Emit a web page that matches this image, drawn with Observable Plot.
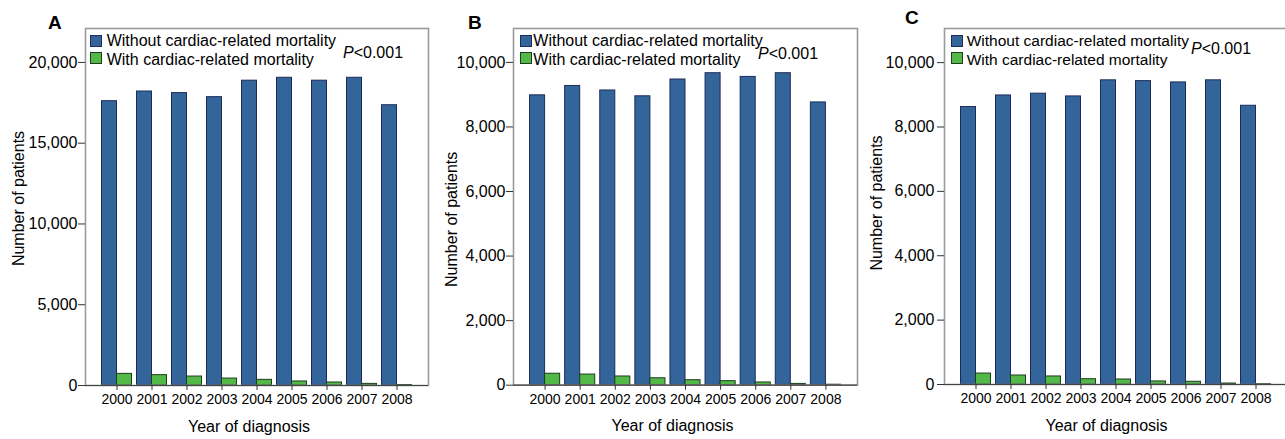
<!DOCTYPE html>
<html><head><meta charset="utf-8">
<script src="https://cdn.jsdelivr.net/npm/d3@7"></script>
<script src="https://cdn.jsdelivr.net/npm/@observablehq/plot@0.6"></script>
<style>
body{margin:0;background:#fff;overflow:hidden;font-family:"Liberation Sans",Arial,sans-serif;}
#root{position:relative;width:1285px;height:439px;overflow:hidden;background:#fff;}
.panel{position:absolute;top:0;height:439px;}
.panel svg{position:absolute;left:0;top:0;}
.lab{position:absolute;font-weight:bold;font-size:19px;line-height:19px;color:#000;}
.leg{position:absolute;font-size:16px;line-height:16px;white-space:nowrap;color:#000;}
.sw{position:absolute;width:10px;height:10px;}
</style></head><body><div id="root"></div>
<script>
// ---- data ----
const years = ["2000","2001","2002","2003","2004","2005","2006","2007","2008"];
const seriesNames = ["Without cardiac-related mortality", "With cardiac-related mortality"];
const A_without = [17600, 18200, 18100, 17850, 18870, 19050, 18870, 19050, 17350];
const A_with    = [720, 640, 555, 430, 350, 250, 185, 100, 30];
const B_without = [8980, 9270, 9130, 8950, 9470, 9665, 9550, 9665, 8760];
const B_with    = [355, 330, 270, 215, 155, 125, 85, 40, 15];
const C_without = [8620, 8980, 9035, 8950, 9450, 9425, 9385, 9450, 8660];
const C_with    = [340, 280, 250, 165, 155, 95, 85, 30, 10];
const A_ticks = [0, 5000, 10000, 15000, 20000];
const BC_ticks = [0, 2000, 4000, 6000, 8000, 10000];
const pText = "<0.001";

const BLUE = "#34659a", BLUE_S = "#1c2c5a";
const GREEN = "#52b848", GREEN_S = "#1e3d1e";

const panels = [
  {name:"A", left:0, width:430, mL:85, mR:2, mB:54, yMax:22100, ticks:A_ticks, tp:1,
   without:A_without, withv:A_with, ylDx:-67, ylDy:-8.5, xlDx:-8,
   labX:48, labY:12.5, swX:90, txX:106.7, legY:33, legFs:16, pX:343, pY:44.7},
  {name:"B", left:430, width:428, mL:83, mR:1, mB:54.3, yMax:11050, ticks:BC_ticks, tp:1,
   without:B_without, withv:B_with, ylDx:-61.3, ylDy:12.5, xlDx:-13,
   labX:38, labY:12.5, swX:90, txX:103.3, legY:33, legFs:16, pX:328, pY:46.2},
  {name:"C", left:858, width:432, mL:86, mR:3, mB:55, yMax:11060, ticks:BC_ticks, tp:3,
   without:C_without, withv:C_with, ylDx:-67.3, ylDy:-3.5, xlDx:-9.5,
   labX:47, labY:7.5, swX:92.7, txX:108.7, legY:33, legFs:15.5, pX:333, pY:40.5}
];

const root = document.getElementById("root");
for (const p of panels) {
  const data = years.map((y, i) => ({year: y, without: p.without[i], withv: p.withv[i]}));
  const pi = 5/35, po = 0.4714;
  const inner = p.width - p.mL - p.mR;
  const step = inner / (years.length - pi + 2*po);
  const half = step * (1 - pi) / 2;
  const chart = Plot.plot({
    width: p.width, height: 439,
    marginLeft: p.mL, marginRight: p.mR, marginTop: 28, marginBottom: p.mB,
    style: {fontFamily: "Liberation Sans, Arial, sans-serif", background: "transparent", overflow: "visible", color: "#000"},
    x: {type: "band", domain: years, paddingInner: pi, paddingOuter: po, round: false},
    y: {domain: [0, p.yMax]},
    marks: [
      Plot.barY(data, {x: "year", y: "without", fill: BLUE, stroke: BLUE_S, strokeWidth: 1, insetRight: half}),
      Plot.barY(data, {x: "year", y: "withv", fill: GREEN, stroke: GREEN_S, strokeWidth: 1, insetLeft: half}),
      Plot.frame({stroke: "#9b9b9b", strokeWidth: 1.6}),
      Plot.ruleY([0], {stroke: "#444", strokeWidth: 1.2}),
      Plot.axisY({ticks: p.ticks, tickFormat: d3.format(","), tickSize: 7, tickPadding: p.tp, fontSize: 16, label: null, stroke: "#333"}),
      Plot.axisX({tickSize: 5, tickPadding: 4, fontSize: 14, label: null, stroke: "#333"}),
      Plot.text(["Number of patients"], {text: d => d, frameAnchor: "left", rotate: -90, textAnchor: "middle", lineAnchor: "middle", dx: p.ylDx, dy: p.ylDy, fontSize: 16}),
      Plot.text(["Year of diagnosis"], {text: d => d, frameAnchor: "bottom", textAnchor: "middle", lineAnchor: "middle", dx: p.xlDx, dy: 41, fontSize: 16})
    ]
  });
  const div = document.createElement("div");
  div.className = "panel";
  div.style.left = p.left + "px";
  div.style.width = p.width + "px";
  div.appendChild(chart);

  const lab = document.createElement("div");
  lab.className = "lab"; lab.textContent = p.name;
  lab.style.left = p.labX + "px"; lab.style.top = p.labY + "px";
  div.appendChild(lab);

  const cols = [[BLUE, BLUE_S], [GREEN, GREEN_S]];
  seriesNames.forEach((s, i) => {
    const sw = document.createElement("div");
    sw.className = "sw";
    sw.style.left = p.swX + "px";
    sw.style.top = (35 + i*16.7) + "px";
    sw.style.background = cols[i][0];
    sw.style.border = "1px solid " + cols[i][1];
    div.appendChild(sw);
    const t = document.createElement("div");
    t.className = "leg"; t.textContent = s;
    t.style.fontSize = p.legFs + "px";
    t.style.left = p.txX + "px";
    t.style.top = (p.legY + i*18.5) + "px";
    div.appendChild(t);
  });

  const pv = document.createElement("div");
  pv.className = "leg";
  pv.innerHTML = "<i>P</i>" + pText.replace("<", "&lt;");
  pv.style.left = p.pX + "px"; pv.style.top = p.pY + "px";
  div.appendChild(pv);

  root.appendChild(div);
}
</script></body></html>
